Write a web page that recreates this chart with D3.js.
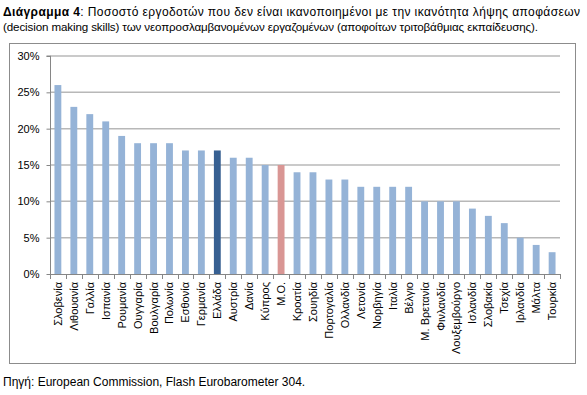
<!DOCTYPE html>
<html>
<head>
<meta charset="utf-8">
<script src="https://cdn.jsdelivr.net/npm/d3@7"></script>
<style>
  body { margin: 0; background: #fff; }
  svg { font-family: "Liberation Sans", Arial, sans-serif; }
</style>
</head>
<body>
<svg id="chart" width="587" height="395"></svg>
<script>
// data
const countries = ["Σλοβενία","Λιθουανία","Γαλλία","Ισπανία","Ρουμανία","Ουγγαρία","Βουλγαρία","Πολωνία",
  "Εσθονία","Γερμανία","Ελλάδα","Αυστρία","Δανία","Κύπρος","Μ.Ο.","Κροατία","Σουηδία","Πορτογαλία",
  "Ολλανδία","Λετονία","Νορβηγία","Ιταλία","Βέλγιο","Μ. Βρετανία","Φινλανδία","Λουξεμβούργο",
  "Ισλανδία","Σλοβακία","Τσεχία","Ιρλανδία","Μάλτα","Τουρκία"]
const values = [26,23,22,21,19,18,18,18,17,17,17,16,16,15,15,14,14,13,13,12,12,12,12,10,10,10,9,8,7,5,4,3]
const yTicks = [0,5,10,15,20,25,30]
const highlightGreece = "Ελλάδα"
const highlightAvg = "Μ.Ο."

const svg = d3.select("#chart")

// title
const title = svg.append("text").attr("x",3).attr("y",16).attr("font-size",12).attr("fill","#000")
  .attr("textLength",577).attr("lengthAdjust","spacing")
title.append("tspan").attr("font-weight","bold").text("Διάγραμμα 4")
title.append("tspan").text(": Ποσοστό εργοδοτών που δεν είναι ικανοποιημένοι με την ικανότητα λήψης αποφάσεων")
svg.append("text").attr("x",3).attr("y",31).attr("font-size",11.6).attr("fill","#000")
  .attr("textLength",535).attr("lengthAdjust","spacing")
  .text("(decision making skills) των νεοπροσλαμβανομένων εργαζομένων (αποφοίτων τριτοβάθμιας εκπαίδευσης).")

// outer frame
svg.append("rect").attr("x",9.5).attr("y",43.5).attr("width",566).attr("height",320)
  .attr("fill","none").attr("stroke","#8c8c8c").attr("stroke-width",1)

const pLeft = 50, pRight = 560, pTop = 56, pBottom = 274

const x = d3.scaleBand().domain(countries).range([pLeft,pRight]).paddingInner(0.57).paddingOuter(0.28)
const y = d3.scaleLinear().domain([0,30]).range([pBottom,pTop])

// gridlines
svg.append("g").selectAll("line").data(yTicks.filter(d=>d>0)).join("line")
  .attr("x1",pLeft).attr("x2",pRight)
  .attr("y1",d=>y(d)).attr("y2",d=>y(d))
  .attr("stroke","#b8b8b8").attr("stroke-width",1.5)

// bars
svg.append("g").selectAll("rect").data(countries).join("rect")
  .attr("x",d=>x(d)).attr("width",x.bandwidth())
  .attr("y",(d,i)=>y(values[i])).attr("height",(d,i)=>pBottom-y(values[i]))
  .attr("fill",d=> d===highlightGreece ? "#376092" : d===highlightAvg ? "#d99694" : "#95b3d7")

// y axis
const yAxis = svg.append("g").attr("transform",`translate(${pLeft+0.5},0)`)
  .call(d3.axisLeft(y).tickValues(yTicks).tickFormat(d=>d+"%").tickSize(4).tickPadding(7))
yAxis.select(".domain").attr("stroke","#868686").attr("d",`M-4,${pTop}H0V${pBottom}`)
yAxis.selectAll(".tick line").attr("stroke","#868686")
yAxis.selectAll(".tick text").attr("font-size",11).attr("fill","#000").attr("font-family","Liberation Sans, Arial")

// x axis
const xg = svg.append("g")
xg.append("line").attr("x1",pLeft).attr("x2",pRight).attr("y1",pBottom+0.5).attr("y2",pBottom+0.5).attr("stroke","#868686")
const bounds = d3.range(countries.length+1).map(i=>pLeft + i*(pRight-pLeft)/countries.length)
xg.selectAll(".tk").data(bounds).join("line").attr("class","tk")
  .attr("x1",d=>Math.round(d)+0.5).attr("x2",d=>Math.round(d)+0.5)
  .attr("y1",pBottom).attr("y2",pBottom+5).attr("stroke","#868686")

xg.selectAll(".lbl").data(countries).join("text").attr("class","lbl")
  .attr("transform",d=>`translate(${x(d)+x.bandwidth()/2+4},${pBottom+8}) rotate(-90)`)
  .attr("text-anchor","end").attr("font-size",11).attr("fill","#000")
  .text(d=>d)

// source
svg.append("text").attr("x",3).attr("y",386).attr("font-size",12).attr("fill","#000")
  .text("Πηγή: European Commission, Flash Eurobarometer 304.")
</script>
</body>
</html>
